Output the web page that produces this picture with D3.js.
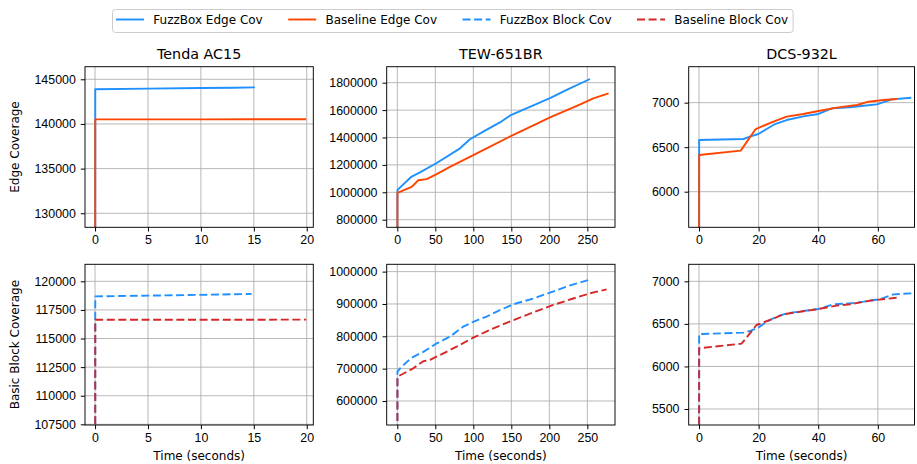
<!DOCTYPE html>
<html>
<head>
<meta charset="utf-8">
<script src="https://cdn.jsdelivr.net/npm/d3@7"></script>
<style>
    body { margin: 0; background: #fff; }
    svg { display: block; font-family: "DejaVu Sans", sans-serif; }
    .tick text { font-size: 12.4px; fill: #000; }
    .tick line { stroke: #000; }
    .grid-line { stroke: #b0b0b0; stroke-width: 0.9; }
</style>
</head>
<body>
<div id="chart"></div>
<script>
// time (s), coverage pairs
const tendaEdgeFuzz = [[0, 0], [0.02, 143880], [5, 143960], [10, 144030], [13, 144050], [15.1, 144100]];
const tendaEdgeBase = [[0, 0], [0.02, 140510], [10, 140515], [19.95, 140525]];
const tendaBlockFuzz = [[0, 0], [0.02, 118690], [5, 118750], [10, 118820], [14.8, 118900]];
const tendaBlockBase = [[0, 0], [0.02, 116640], [10, 116645], [19.95, 116650]];

const tewEdgeFuzz = [[0, 0], [0.2, 1016000], [3, 1032000], [18.9, 1115000], [29.8, 1145000], [51.8, 1214000],
    [82.5, 1321000], [95.6, 1387000], [115.4, 1450000], [135, 1510000], [150, 1566000], [179, 1635000],
    [200.9, 1687000], [222.8, 1748000], [253.5, 1827000]];
const tewEdgeBase = [[0, 0], [0.2, 995000], [18.9, 1040000], [23, 1062000], [27.6, 1088000], [38.6, 1096000],
    [51.8, 1133000], [69.3, 1185000], [100, 1272000], [117.5, 1321000], [150, 1412000], [179, 1488000],
    [200.9, 1547000], [240, 1640000], [257.9, 1686000], [278, 1722000]];
const tewBlockFuzz = [[0, 0], [0.2, 690000], [3.5, 701000], [18.9, 734000], [34.2, 752000], [51.8, 778000],
    [69.3, 799000], [86.8, 830000], [100, 845000], [117.5, 861000], [135, 881000], [152.6, 899000],
    [179, 917000], [200.9, 935000], [222.8, 954000], [251.3, 974000]];
const tewBlockBase = [[0, 0], [0.2, 675000], [21, 701000], [34.2, 723000], [43, 727000], [56.1, 742000],
    [78, 768000], [100, 796000], [122, 820000], [152.6, 850000], [179, 874000], [205.2, 897000],
    [231.6, 917000], [253.5, 933000], [275.4, 945000]];

const dcsEdgeFuzz = [[0, 0], [0.05, 6580], [14.9, 6592], [17.1, 6618], [19.9, 6648], [22.7, 6704], [25.5, 6760],
    [29.4, 6805], [35, 6846], [40.1, 6873], [44.6, 6936], [50.7, 6948], [55.2, 6966], [59.7, 6981],
    [64.7, 7037], [71.2, 7056]];
const dcsEdgeBase = [[0, 0], [0.05, 6412], [14, 6461], [19, 6704], [25, 6787], [29.4, 6843], [35, 6873],
    [40.1, 6906], [46.2, 6944], [53, 6974], [56.9, 7011], [61.9, 7030], [66.4, 7041]];
const dcsBlockFuzz = [[0, 0], [0.05, 6381], [14.9, 6397], [17.1, 6416], [19.9, 6456], [22.7, 6526], [26.1, 6585],
    [29.4, 6624], [35, 6651], [40.1, 6675], [45.1, 6730], [50.7, 6741], [55.2, 6761], [60.8, 6792],
    [65.3, 6847], [71.5, 6859]];
const dcsBlockBase = [[0, 0], [0.05, 6213], [14.3, 6268], [19.3, 6487], [23.8, 6546], [28.3, 6612], [33.9, 6643],
    [40.1, 6675], [46.2, 6714], [50.7, 6730], [57.4, 6773], [66.4, 6808]];

const deviceTitles = ['Tenda AC15', 'TEW-651BR', 'DCS-932L'];
const rowLabels = ['Edge Coverage', 'Basic Block Coverage'];
const xLabel = 'Time (seconds)';

const xTicks = [[0, 5, 10, 15, 20], [0, 50, 100, 150, 200, 250], [0, 20, 40, 60]];
const xDomains = [[-0.95, 20.62], [-13.95, 286.4], [-3.46, 72.3]];

const edgeTicks = [[130000, 135000, 140000, 145000],
    [800000, 1000000, 1200000, 1400000, 1600000, 1800000], [6000, 6500, 7000]];
const edgeDomains = [[128430, 146410], [744500, 1916800], [5600, 7404]];
const blockTicks = [[107500, 110000, 112500, 115000, 117500, 120000],
    [600000, 700000, 800000, 900000, 1000000], [5500, 6000, 6500, 7000]];
const blockDomains = [[107440, 121490], [525770, 1022680], [5312, 7200]];

const seriesNames = ['FuzzBox Edge Cov', 'Baseline Edge Cov', 'FuzzBox Block Cov', 'Baseline Block Cov'];

const COLORS = {
    fuzz: '#1e90ff',
    baseEdge: '#ff4500',
    baseBlock: '#d62728'
};
const DASH = '8,3.6';
const LINE_WIDTH = 1.9;

const seriesStyles = [
    { color: COLORS.fuzz, dash: null },
    { color: COLORS.baseEdge, dash: null },
    { color: COLORS.fuzz, dash: DASH },
    { color: COLORS.baseBlock, dash: DASH }
];

const panelData = [
    [[tendaEdgeFuzz, tendaEdgeBase], [tewEdgeFuzz, tewEdgeBase], [dcsEdgeFuzz, dcsEdgeBase]],
    [[tendaBlockFuzz, tendaBlockBase], [tewBlockFuzz, tewBlockBase], [dcsBlockFuzz, dcsBlockBase]]
];

const WIDTH = 917;
const HEIGHT = 464;
const COLS = [[85, 313.3], [386.7, 615], [688.7, 914.5]];
const ROWS = [[66.7, 227.3], [264.3, 425]];

const svg = d3.select('#chart').append('svg')
    .attr('width', WIDTH)
    .attr('height', HEIGHT);

function drawPanel(row, col) {
    const [x0, x1] = COLS[col];
    const [y0, y1] = ROWS[row];
    const yDomain = row === 0 ? edgeDomains[col] : blockDomains[col];
    const yTickValues = row === 0 ? edgeTicks[col] : blockTicks[col];

    const xScale = d3.scaleLinear().domain(xDomains[col]).range([x0, x1]);
    const yScale = d3.scaleLinear().domain(yDomain).range([y1, y0]);

    const clipId = `clip-${row}-${col}`;
    svg.append('clipPath').attr('id', clipId)
        .append('rect')
        .attr('x', x0).attr('y', y0)
        .attr('width', x1 - x0).attr('height', y1 - y0);

    const grid = svg.append('g');
    grid.selectAll('.gx').data(xTicks[col]).enter().append('line')
        .attr('class', 'grid-line')
        .attr('x1', (d) => xScale(d)).attr('x2', (d) => xScale(d))
        .attr('y1', y0).attr('y2', y1);
    grid.selectAll('.gy').data(yTickValues).enter().append('line')
        .attr('class', 'grid-line')
        .attr('x1', x0).attr('x2', x1)
        .attr('y1', (d) => yScale(d)).attr('y2', (d) => yScale(d));

    const line = d3.line()
        .x((d) => xScale(d[0]))
        .y((d) => yScale(d[1]));

    panelData[row][col].forEach((series, index) => {
        const style = seriesStyles[row * 2 + index];
        svg.append('path')
            .datum(series)
            .attr('clip-path', `url(#${clipId})`)
            .attr('d', line)
            .attr('fill', 'none')
            .attr('stroke', style.color)
            .attr('stroke-width', LINE_WIDTH)
            .attr('stroke-dasharray', style.dash)
            .attr('stroke-linejoin', 'round');
    });

    svg.append('g')
        .attr('transform', `translate(0,${y1})`)
        .call(d3.axisBottom(xScale).tickValues(xTicks[col]).tickSize(4.2).tickPadding(4).tickFormat(d3.format('d')))
        .call((g) => g.select('.domain').remove());

    svg.append('g')
        .attr('transform', `translate(${x0},0)`)
        .call(d3.axisLeft(yScale).tickValues(yTickValues).tickSize(4.2).tickPadding(5).tickFormat(d3.format('d')))
        .call((g) => g.select('.domain').remove());

    svg.append('rect')
        .attr('x', x0).attr('y', y0)
        .attr('width', x1 - x0).attr('height', y1 - y0)
        .attr('fill', 'none')
        .attr('stroke', '#000')
        .attr('stroke-width', 0.95);

    if (row === 0) {
        svg.append('text')
            .attr('x', (x0 + x1) / 2)
            .attr('y', y0 - 7.5)
            .attr('text-anchor', 'middle')
            .attr('font-size', 14.3)
            .text(deviceTitles[col]);
    } else {
        svg.append('text')
            .attr('x', (x0 + x1) / 2)
            .attr('y', 460)
            .attr('text-anchor', 'middle')
            .attr('font-size', 12)
            .text(xLabel);
    }
}

[0, 1].forEach((row) => {
    [0, 1, 2].forEach((col) => drawPanel(row, col));
    const [y0, y1] = ROWS[row];
    svg.append('text')
        .attr('transform', `translate(18.5,${(y0 + y1) / 2}) rotate(-90)`)
        .attr('text-anchor', 'middle')
        .attr('font-size', 12)
        .text(rowLabels[row]);
});

// legend
const legend = svg.append('g');
const legendBox = legend.append('rect')
    .attr('x', 112.5).attr('y', 9.5)
    .attr('height', 23)
    .attr('rx', 3)
    .attr('fill', '#fff')
    .attr('fill-opacity', 0.8)
    .attr('stroke', '#cccccc')
    .attr('stroke-width', 1);

let cursor = 116;
seriesNames.forEach((name, index) => {
    const style = seriesStyles[index];
    legend.append('line')
        .attr('x1', cursor).attr('x2', cursor + 28)
        .attr('y1', 19.5).attr('y2', 19.5)
        .attr('stroke', style.color)
        .attr('stroke-width', LINE_WIDTH)
        .attr('stroke-dasharray', style.dash);
    const label = legend.append('text')
        .attr('x', cursor + 37.3)
        .attr('y', 24)
        .attr('font-size', 12)
        .text(name);
    cursor += 37.3 + label.node().getComputedTextLength() + 25.5;
});
legendBox.attr('width', cursor - 25.5 + 5 - 112.5);
</script>
</body>
</html>
